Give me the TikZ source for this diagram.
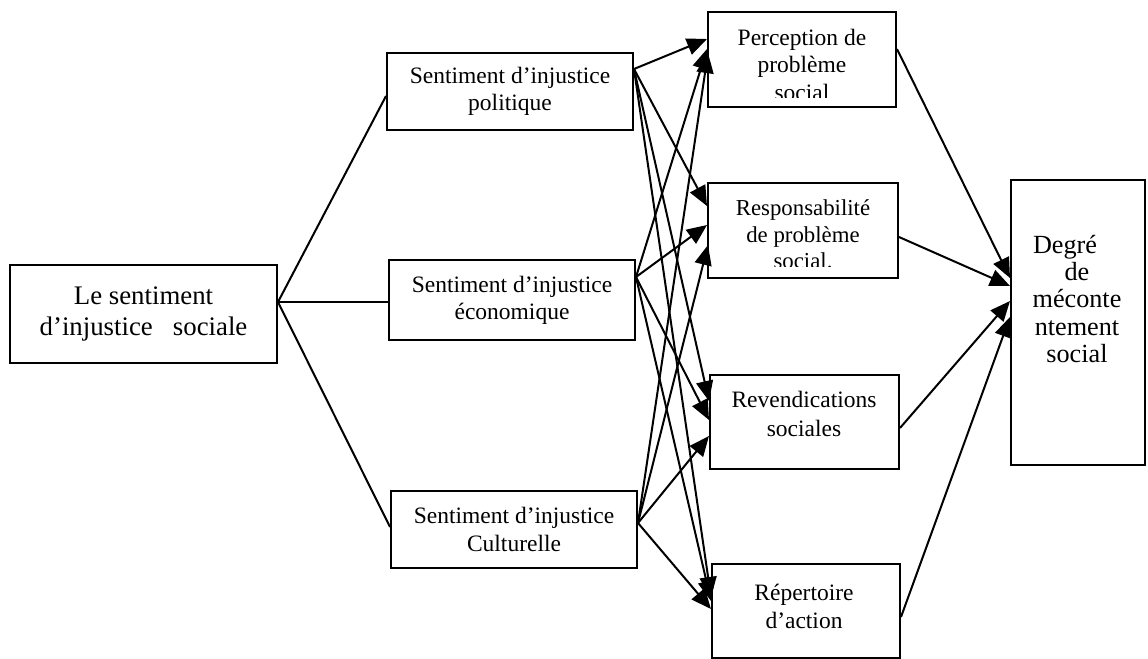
\documentclass[tikz,border=0pt]{standalone}
\usepackage{fontspec}
\setmainfont{Liberation Serif}
\usetikzlibrary{arrows.meta,calc}
\begin{document}
\begin{tikzpicture}[x=0.5pt,y=-0.5pt,
  box/.style={draw,line width=1pt,inner sep=0pt,align=center,font=\fontsize{11.75}{13.5}\selectfont},
  txt/.style={inner sep=0pt,align=center},
  link/.style={line width=1pt},
  arr/.style={line width=1pt,-{Triangle[length=10pt,width=8.5pt]}}]
\useasboundingbox (0,0) rectangle (1148,659);

% boxes
\node[box,minimum width=133.5pt,minimum height=49pt,font=\fontsize{13.4}{15.5}\selectfont] (le) at (143.5,314) {Le sentiment\\d’injustice\ \ \ sociale};
\node[box,minimum width=123pt,minimum height=38.5pt] (pol) at (510,91.5) {Sentiment d’injustice\\politique};
\node[box,minimum width=123pt,minimum height=40pt] (eco) at (512,300) {Sentiment d’injustice\\économique};
\node[box,minimum width=123pt,minimum height=38.5pt,font=\fontsize{11.75}{14}\selectfont] (cul) at (514,529.5) {Sentiment d’injustice\\Culturelle};
\node[box,minimum width=94pt,minimum height=47.5pt] (per) at (802,59.5) {};
\node[box,minimum width=95pt,minimum height=47.5pt] (res) at (803,230.5) {};
\node[box,minimum width=94.5pt,minimum height=47pt] (rev) at (804.5,422) {};
\node[box,minimum width=94pt,minimum height=47pt] (rep) at (806,611) {};
\node[box,minimum width=67pt,minimum height=142.5pt] (deg) at (1078,322.5) {};

% texts of the right-hand boxes
\begin{scope}
  \clip (709,13) rectangle (895,97.5);
  \node[txt,font=\fontsize{11.75}{13.75}\selectfont] (tper) at (802,64.5) {Perception de\\problème\\social};
\end{scope}
\begin{scope}
  \clip (709,184) rectangle (897,266);
  \node[txt,font=\fontsize{11.4}{13.25}\selectfont] (tres) at (803,234.5) {Responsabilité\\de problème\\social.};
\end{scope}
\node[txt,font=\fontsize{11.75}{14.5}\selectfont] (trev) at (804,414) {Revendications\\sociales};
\node[txt,font=\fontsize{11.75}{14}\selectfont] (trep) at (804,606) {Répertoire\\d’action};
\node[txt,font=\fontsize{13.1}{13.6}\selectfont] (tdeg) at (1077,299) {Degré\hspace*{12pt}\\de\\méconte\\ntement\\social};

% junction points
\coordinate (leR) at ($(le.north east)+(0,38)$);
\coordinate (polR) at ($(pol.north east)+(0,17)$);
\coordinate (ecoR) at ($(eco.north east)+(0,18)$);
\coordinate (culR) at ($(cul.north east)+(0,33)$);

% left fan
\draw[link] (leR) -- ($(pol.north west)+(0,44)$);
\draw[link] (leR) -- ($(eco.north west)+(0,43)$);
\draw[link] (leR) -- ($(cul.north west)+(0,37)$);

% to Perception
\draw[arr] (polR) -- ($(per.north west)+(0,28)$);
\draw[arr] (ecoR) -- ($(per.north west)+(0,38)$);
\draw[arr] (culR) -- ($(per.north west)+(1,42)$);
% to Responsabilite
\draw[arr] (polR) -- ($(res.north west)+(0,24)$);
\draw[arr] (ecoR) -- ($(res.north west)+(0,43)$);
\draw[arr] (culR) -- ($(res.north west)+(1,63)$);
% to Revendications
\draw[arr] (polR) -- ($(rev.north west)+(0,27)$);
\draw[arr] (ecoR) -- ($(rev.north west)+(0,46)$);
\draw[arr] (culR) -- ($(rev.north west)+(0,62)$);
% to Repertoire
\draw[arr] (polR) -- ($(rep.north west)+(0,34)$);
\draw[arr] (ecoR) -- ($(rep.north west)+(0,38)$);
\draw[arr] (culR) -- ($(rep.north west)+(0,46)$);

% to Degre
\draw[arr] ($(per.north east)+(0,38)$) -- ($(deg.north west)+(0,99)$);
\draw[arr] ($(res.north east)+(0,55)$) -- ($(deg.north west)+(0,107)$);
\draw[arr] ($(rev.north east)+(0,54)$) -- ($(deg.north west)+(0,122)$);
\draw[arr] ($(rep.north east)+(0,54)$) -- ($(deg.north west)+(0,138)$);
\end{tikzpicture}
\end{document}
